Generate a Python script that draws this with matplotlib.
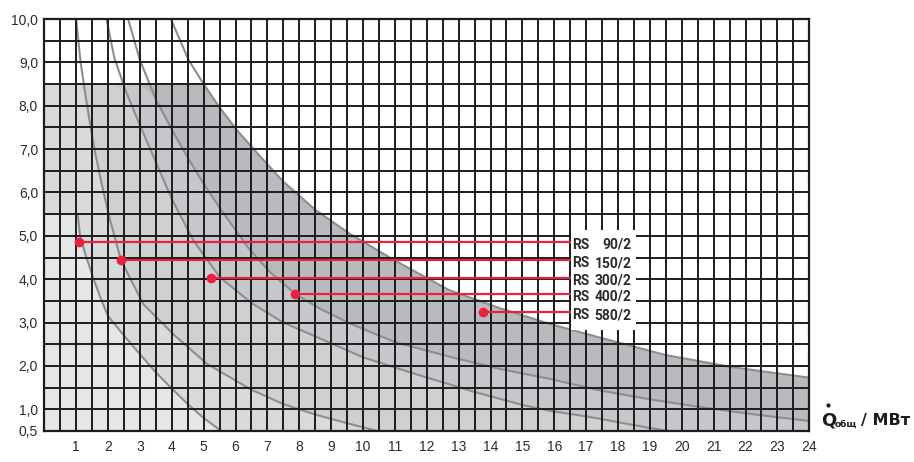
import numpy as np
import matplotlib.pyplot as plt
from matplotlib.lines import Line2D

# working-field curves (x: Q total, MW; y: pressure)
e_x = [1.05, 1.12, 1.3, 1.55, 1.8, 2.0, 2.5, 3.0, 3.5, 4.0, 4.5, 5.0, 5.55]
e_y = [5.5, 5.0, 4.55, 4.0, 3.5, 3.15, 2.7, 2.27, 1.85, 1.48, 1.12, 0.8, 0.5]

a_x = [1.0, 1.13, 1.3, 1.47, 1.6, 1.8, 2.05, 2.4, 3.1, 4.05, 5.1, 6.5, 7.5, 8.5, 9.5, 10.45]
a_y = [10.0, 9.05, 8.2, 7.43, 6.9, 6.2, 5.4, 4.45, 3.43, 2.73, 2.05, 1.45, 1.12, 0.88, 0.68, 0.5]

b_x = [1.95, 2.2, 2.55, 3.0, 3.5, 4.0, 4.68, 5.5, 6.5, 7.5, 8.6, 10.0, 11.7, 13.5, 15.0, 15.9,
       16.8, 17.45, 18.9, 19.6]
b_y = [10.0, 9.1, 8.35, 7.55, 6.7, 5.85, 4.89, 4.05, 3.45, 3.0, 2.65, 2.2, 1.8, 1.4, 1.1, 0.96,
       0.86, 0.78, 0.58, 0.5]

c_x = [2.63, 3.0, 3.5, 4.0, 4.5, 5.0, 5.5, 6.4, 7.1, 7.89, 8.7, 9.59, 11.0, 12.73, 14.3, 15.87,
       17.4, 19.0, 20.6, 22.3, 24.0]
c_y = [10.0, 9.05, 8.15, 7.45, 6.8, 6.2, 5.65, 4.72, 4.15, 3.65, 3.3, 2.98, 2.55, 2.21, 1.93, 1.7,
       1.44, 1.23, 1.05, 0.88, 0.73]

d_x = [3.97, 4.53, 5.0, 5.5, 6.05, 6.75, 7.5, 8.5, 9.6, 11.0, 12.7, 14.3, 15.85, 17.4, 19.5,
       21.6, 24.0]
d_y = [10.0, 9.05, 8.5, 7.96, 7.43, 6.85, 6.25, 5.6, 5.04, 4.43, 3.75, 3.33, 2.97, 2.66, 2.25,
       1.97, 1.73]

caps = [5.5, 8.5, 8.5, 8.5, 8.5]

models = ['90/2', '150/2', '300/2', '400/2', '580/2']
dot_x = [1.09, 2.41, 5.23, 7.86, 13.76]
dot_y = [4.86, 4.44, 4.03, 3.66, 3.24]

x_ticks = list(range(1, 25))
y_ticks = [0.5, 1, 2, 3, 4, 5, 6, 7, 8, 9, 10]
y_labels = ['0,5', '1,0', '2,0', '3,0', '4,0', '5,0', '6,0', '7,0', '8,0', '9,0', '10,0']

curves = [(e_x, e_y), (a_x, a_y), (b_x, b_y), (c_x, c_y), (d_x, d_y)]
fills = ['#e5e6e8', '#d9dadc', '#cfd0d2', '#c6c7ca', '#b9babe']

W, H = 914, 462
fig = plt.figure(figsize=(W / 100, H / 100), dpi=100, facecolor='white')
ax = fig.add_axes([44.3 / W, 1 - 431 / H, (809.3 - 44.3) / W, (431 - 19) / H])

# shaded fields, biggest (darkest) first
for i in range(4, -1, -1):
    x, y = curves[i]
    xs = np.r_[0, x]
    ys = np.minimum(np.r_[caps[i], y], caps[i])
    ax.fill_between(xs, 0.5, ys, color=fills[i], lw=0, zorder=1)

for x, y in curves:
    ax.plot(x, y, color='#8e8e91', lw=1.5, zorder=2, solid_capstyle='butt')

ax.set_xlim(0, 24)
ax.set_ylim(0.5, 10)
ax.set_xticks(x_ticks)
ax.set_xticks(np.arange(0, 24.01, 0.5), minor=True)
ax.set_yticks(y_ticks)
ax.set_yticklabels(y_labels)
ax.set_yticks(np.arange(0.5, 10.01, 0.5), minor=True)
ax.grid(which='both', color='#1c1c1c', lw=1.4)
ax.set_axisbelow(False)
ax.tick_params(which='both', length=0)
ax.tick_params(axis='x', pad=6.5)
ax.tick_params(axis='y', pad=4.5)
for lab in ax.get_xticklabels() + ax.get_yticklabels():
    lab.set_fontfamily('Liberation Sans')
    lab.set_fontsize(10)
    lab.set_color('#2b2b2b')
for s in ax.spines.values():
    s.set_linewidth(1.6)
    s.set_color('#1c1c1c')

# red markers and leader lines
red = '#e8213f'
box_left = 16.52
for xd, yd in zip(dot_x, dot_y):
    ax.plot([xd, box_left], [yd, yd], color=red, lw=1.6, zorder=4)
    ax.plot(xd, yd, 'o', color=red, ms=7, mec='none', zorder=4)

# white label box over the grid
ax.add_patch(plt.Rectangle((box_left, 2.83), 18.55 - box_left, 5.13 - 2.83,
                           facecolor='white', edgecolor='none', zorder=5))
for m, yd in zip(models, dot_y):
    ax.text(box_left + 0.04, yd - 0.07, 'RS', ha='left', va='center', fontsize=10,
            fontweight='bold', family='Roboto', color='#2b2b2b', zorder=6)
    ax.text(18.42, yd - 0.07, m, ha='right', va='center', fontsize=10,
            fontweight='bold', family='Roboto', color='#2b2b2b', zorder=6)

# axis title Q_общ / МВт
def px(x, y):
    return x / W, 1 - y / H

ink = '#1c1c1c'
fig.text(*px(821, 420), 'Q', ha='left', va='center', fontsize=13, fontweight='bold',
         family='DejaVu Sans', color=ink)
fig.add_artist(Line2D([827.5 / W], [1 - 405 / H], marker='o', ms=3, color=ink,
                      mec='none', transform=fig.transFigure))
fig.text(*px(834.5, 424), 'общ', ha='left', va='center', fontsize=6.5, fontweight='bold',
         family='DejaVu Sans', color=ink)
fig.text(*px(910, 420), '/ МВт', ha='right', va='center', fontsize=11.5, fontweight='bold',
         family='DejaVu Sans', color=ink)

fig.savefig('out.png', dpi=100, facecolor='white')
